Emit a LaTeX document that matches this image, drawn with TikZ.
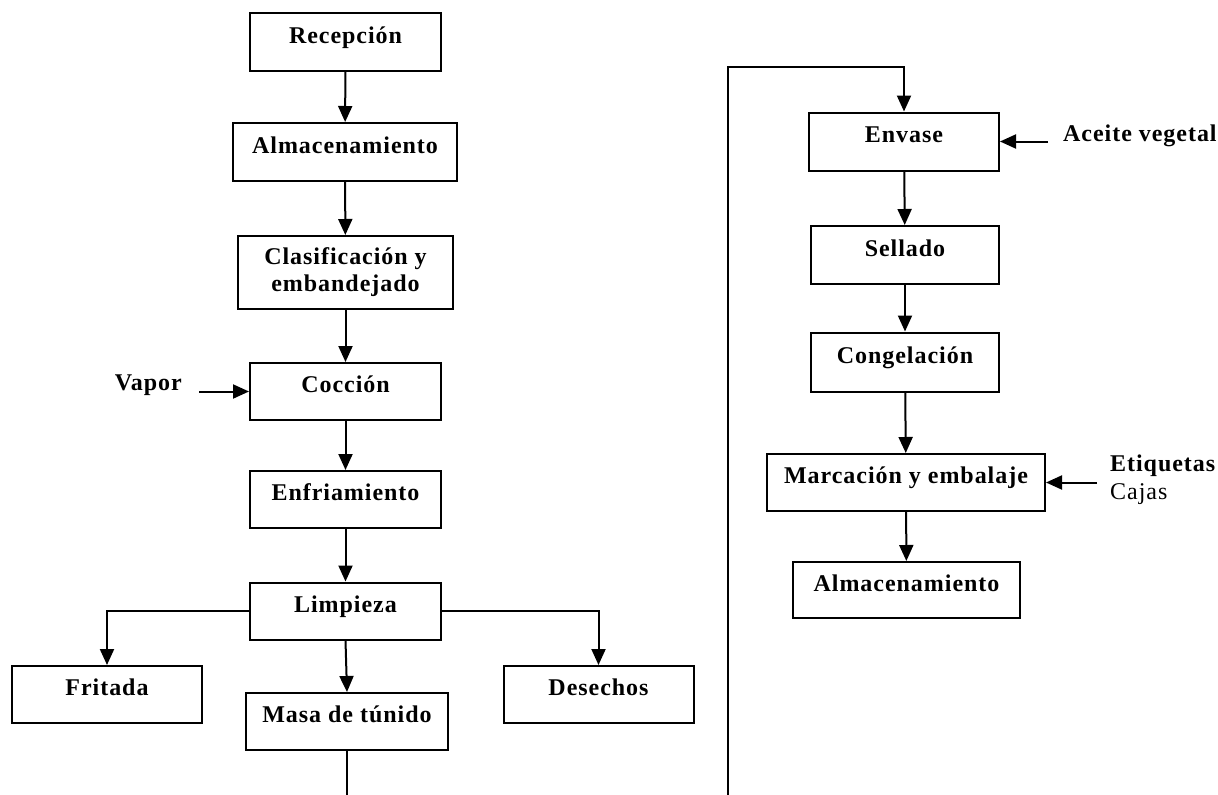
\documentclass[tikz,border=0pt]{standalone}
\usepackage{fontspec}
\setmainfont{Liberation Serif}[LetterSpace=4]
\usetikzlibrary{arrows.meta}
\begin{document}
\begin{tikzpicture}[x=1pt,y=-1pt,
  every node/.style={font=\fontsize{24}{27}\selectfont\bfseries},
  box/.style={draw, line width=2pt, inner sep=0pt, text height=1.6ex, text depth=1.1ex, align=center},
  lbl/.style={inner sep=0pt},
  flow/.style={line width=2pt, -{Triangle[length=16pt,width=14pt]}}]
\useasboundingbox (0,0) rectangle (1218,795);
\fill[white] (0,0) rectangle (1218,795);
% left column
\node[box, minimum width=191pt, minimum height=58pt] (rec)  at (345.5,42)  {Recepción};
\node[box, minimum width=224pt, minimum height=58pt] (alm1) at (345,152)   {Almacenamiento};
\node[box, minimum width=215pt, minimum height=73pt, text height=, text depth=] (clas) at (345.5,272.5) {Clasificación y\\embandejado};
\node[box, minimum width=191pt, minimum height=57pt] (coc)  at (345.5,391.5) {Cocción};
\node[box, minimum width=191pt, minimum height=57pt] (enf)  at (345.5,499.5) {Enfriamiento};
\node[box, minimum width=191pt, minimum height=57pt] (lim)  at (345.5,611)   {Limpieza};
\node[box, minimum width=190pt, minimum height=57pt] (fri)  at (107,694.5)   {Fritada};
\node[box, minimum width=202pt, minimum height=57pt] (masa) at (347,721.5)   {Masa de túnido};
\node[box, minimum width=190pt, minimum height=57pt] (des)  at (598.5,694.5) {Desechos};
\node[lbl, anchor=east] (vapor) at (182,385) {Vapor};
% right column
\node[box, minimum width=190pt, minimum height=58pt] (env)  at (904,141.5)  {Envase};
\node[box, minimum width=188pt, minimum height=58pt] (sel)  at (905,255)    {Sellado};
\node[box, minimum width=188pt, minimum height=59pt] (cong) at (905,362)    {Congelación};
\node[box, minimum width=278pt, minimum height=57pt] (marc) at (906,482.5)  {Marcación y embalaje};
\node[box, minimum width=227pt, minimum height=56pt] (alm2) at (906.5,590)  {Almacenamiento};
\node[lbl, anchor=west] (aceite) at (1063,136) {Aceite vegetal};
\node[lbl, anchor=west] (etiq) at (1110,466) {Etiquetas};
\node[lbl, anchor=west, font=\fontsize{24}{27}\selectfont] (cajas) at (1110,494) {Cajas};
% connectors
\coordinate (vs) at (199,391.5);
\coordinate (as) at (1048,141.5);
\coordinate (es) at (1097,482.5);
\coordinate (b1) at (347,796.3);
\coordinate (b2) at (728,796.3);
\coordinate (t1) at (728,67);
\draw[flow] (rec) -- (alm1);
\draw[flow] (alm1) -- (clas);
\draw[flow] (clas) -- (coc);
\draw[flow] (vs) -- (coc.west);
\draw[flow] (coc) -- (enf);
\draw[flow] (enf) -- (lim);
\draw[flow] (lim.west) -| (fri.north);
\draw[flow] (lim.east) -| (des.north);
\draw[flow] (lim.south) -- (masa.north);
\draw[flow] (masa.south) -- (b1) -- (b2) -- (t1) -| (env.north);
\draw[flow] (as) -- (env.east);
\draw[flow] (env) -- (sel);
\draw[flow] (sel) -- (cong);
\draw[flow] (cong) -- (marc);
\draw[flow] (es) -- (marc.east);
\draw[flow] (marc) -- (alm2);
\end{tikzpicture}
\end{document}
